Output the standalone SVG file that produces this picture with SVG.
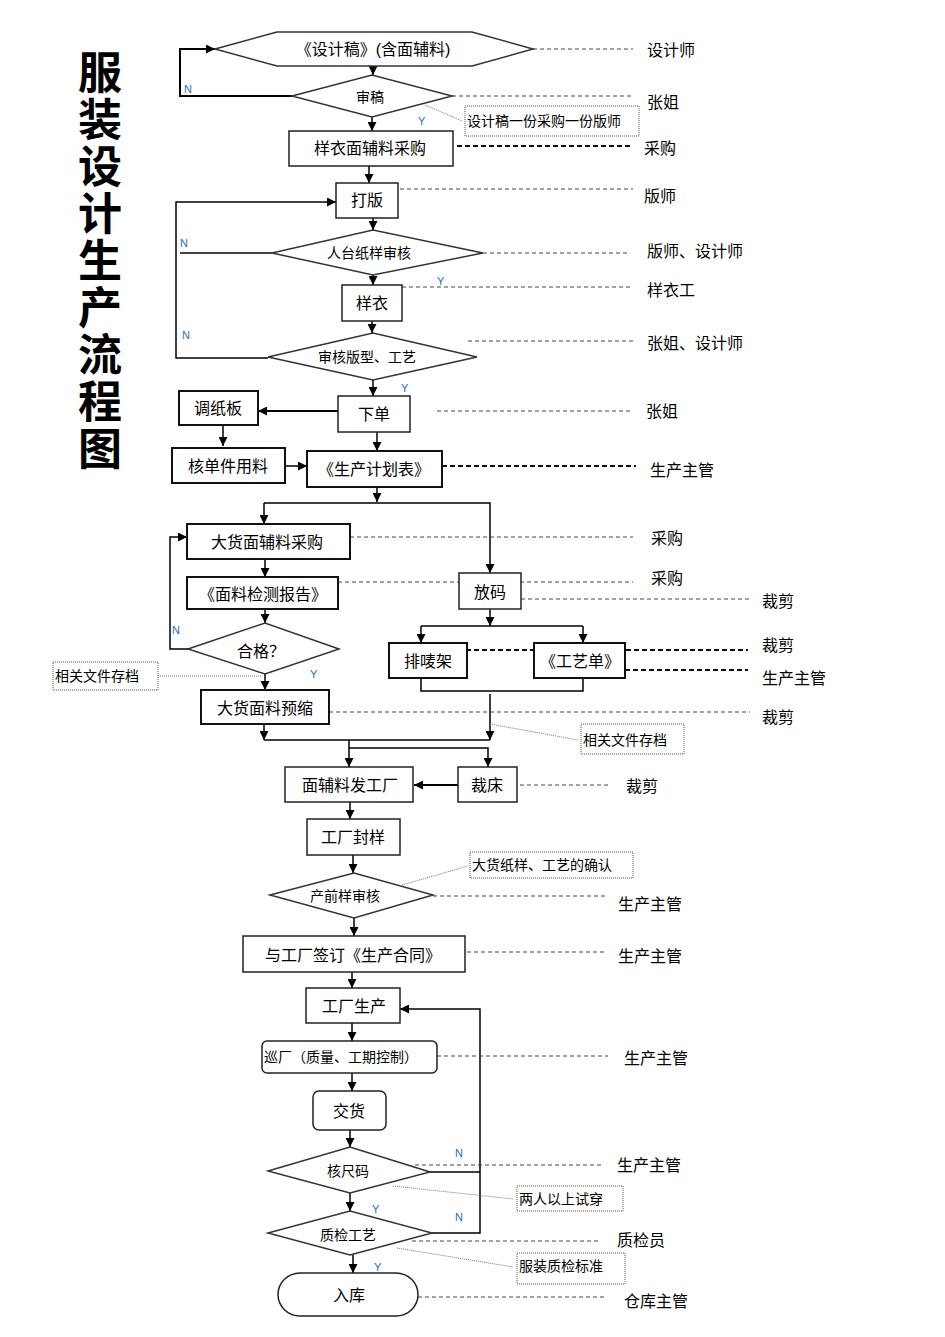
<svg xmlns="http://www.w3.org/2000/svg" width="945" height="1337" viewBox="0 0 945 1337">
<defs>
<marker id="a" viewBox="0 0 10 10" refX="10" refY="5" markerWidth="9" markerHeight="9" orient="auto" markerUnits="userSpaceOnUse"><path d="M0,0 L10,5 L0,10 z" fill="#000"/></marker>
<style>
.n{fill:#fff;stroke:#222;stroke-width:1.5}
.nb{fill:#fff;stroke:#111;stroke-width:2}
.d{fill:#fff;stroke:#333;stroke-width:1.5}
.note{fill:#fff;stroke:#555;stroke-width:1;stroke-dasharray:1 1}
.t{font-family:"Liberation Sans","Noto Sans CJK SC",sans-serif;font-size:16px;fill:#000;text-anchor:middle;dominant-baseline:central}
.s{font-size:14px}
.l{font-family:"Liberation Sans","Noto Sans CJK SC",sans-serif;font-size:16px;fill:#000;dominant-baseline:central}
.nt{font-family:"Liberation Sans","Noto Sans CJK SC",sans-serif;font-size:14px;fill:#000;dominant-baseline:central}
.yn{font-family:"Liberation Sans",sans-serif;font-size:11px;fill:#1e6fbf;dominant-baseline:central}
.title{font-family:"Noto Sans CJK SC",sans-serif;font-size:44px;font-weight:bold;fill:#000;writing-mode:vertical-rl;letter-spacing:3px}
.c{fill:none;stroke:#000;stroke-width:1.5}
.ck{fill:none;stroke:#000;stroke-width:2}
.dl{fill:none;stroke:#444;stroke-width:1;stroke-dasharray:4 3}
.dk{fill:none;stroke:#111;stroke-width:2;stroke-dasharray:5 3}
.dot{fill:none;stroke:#777;stroke-width:1;stroke-dasharray:1 1}
</style>
</defs>
<rect width="945" height="1337" fill="#fff"/>

<g id="title">
<text class="title" x="100" y="50">服装设计生产流程图</text>
</g>

<g id="connectors">
<path class="c" d="M373,66 V75" marker-end="url(#a)"/>
<path class="ck" d="M292,96 H180 V49 H215" marker-end="url(#a)"/>
<path class="c" d="M372,117 V131" marker-end="url(#a)"/>
<path class="c" d="M369,166 V183" marker-end="url(#a)"/>
<path class="c" d="M373,218 V230" marker-end="url(#a)"/>
<path class="c" d="M373,275 V285" marker-end="url(#a)"/>
<path class="c" d="M372,321 V333" marker-end="url(#a)"/>
<path class="c" d="M268,358 H176 V202 H336" marker-end="url(#a)"/>
<path class="c" d="M272,253 H180"/>
<path class="c" d="M373,380 V396" marker-end="url(#a)"/>
<path class="ck" d="M338,411 H258" marker-end="url(#a)"/>
<path class="c" d="M223,425 V446" marker-end="url(#a)"/>
<path class="c" d="M285,466 H307" marker-end="url(#a)"/>
<path class="c" d="M377,432 V451" marker-end="url(#a)"/>
<path class="c" d="M377,487 V502" marker-end="url(#a)"/>
<path class="c" d="M264,503 H490 V573" marker-end="url(#a)"/>
<path class="c" d="M264,503 V524" marker-end="url(#a)"/>
<path class="c" d="M265,559 V577" marker-end="url(#a)"/>
<path class="c" d="M265,609 V623" marker-end="url(#a)"/>
<path class="c" d="M188,649 H170 V537 H187" marker-end="url(#a)"/>
<path class="c" d="M265,674 V690" marker-end="url(#a)"/>
<path class="c" d="M490,609 V626" marker-end="url(#a)"/>
<path class="c" d="M421,626 H583"/>
<path class="c" d="M421,626 V643" marker-end="url(#a)"/>
<path class="c" d="M583,626 V643" marker-end="url(#a)"/>
<path class="c" d="M421,678 V691 H583 V678"/>
<path class="c" d="M490,694 V740" marker-end="url(#a)"/>
<path class="c" d="M264,724 V740" marker-end="url(#a)"/>
<path class="c" d="M264,740 H490"/>
<path class="c" d="M349,740 V767" marker-end="url(#a)"/>
<path class="c" d="M349,748 H488 V767" marker-end="url(#a)"/>
<path class="ck" d="M458,785 H414" marker-end="url(#a)"/>
<path class="c" d="M350,802 V819" marker-end="url(#a)"/>
<path class="c" d="M353,855 V873" marker-end="url(#a)"/>
<path class="c" d="M354,918 V936" marker-end="url(#a)"/>
<path class="c" d="M352,972 V988" marker-end="url(#a)"/>
<path class="c" d="M352,1023 V1041" marker-end="url(#a)"/>
<path class="c" d="M352,1073 V1091" marker-end="url(#a)"/>
<path class="c" d="M350,1130 V1147" marker-end="url(#a)"/>
<path class="c" d="M350,1193 V1211" marker-end="url(#a)"/>
<path class="c" d="M353,1255 V1273" marker-end="url(#a)"/>
<path class="c" d="M430,1172 H480"/>
<path class="c" d="M432,1233 H480 V1009 H400" marker-end="url(#a)"/>

<path class="dl" d="M533,49 H633"/>
<path class="dl" d="M452,96 H633"/>
<path class="dk" d="M457,146 H630"/>
<path class="dl" d="M400,189 H633"/>
<path class="dl" d="M483,253 H630"/>
<path class="dl" d="M402,287 H633"/>
<path class="dl" d="M468,341 H633"/>
<path class="dl" d="M437,411 H633"/>
<path class="dk" d="M442,466 H636"/>
<path class="dl" d="M350,537 H633"/>
<path class="dl" d="M338,582 H633"/>
<path class="dl" d="M521,599 H750"/>
<path class="dk" d="M466,650 H748"/>
<path class="dk" d="M625,670 H748"/>
<path class="dl" d="M329,712 H750"/>
<path class="dl" d="M520,785 H610"/>
<path class="dl" d="M433,896 H605"/>
<path class="dl" d="M467,952 H605"/>
<path class="dl" d="M437,1056 H608"/>
<path class="dl" d="M415,1165 H603"/>
<path class="dl" d="M412,1241 H600"/>
<path class="dl" d="M418,1297 H607"/>

<path class="dot" d="M425,105 L462,121"/>
<path class="dot" d="M158,676 H262"/>
<path class="dot" d="M490,724 L578,740"/>
<path class="dot" d="M402,885 L468,866"/>
<path class="dot" d="M393,1186 L513,1199"/>
<path class="dot" d="M397,1248 L513,1267"/>

<text class="yn" x="184" y="89">N</text>
<text class="yn" x="418" y="121">Y</text>
<text class="yn" x="180" y="243">N</text>
<text class="yn" x="437" y="281">Y</text>
<text class="yn" x="182" y="335">N</text>
<text class="yn" x="401" y="388">Y</text>
<text class="yn" x="172" y="630">N</text>
<text class="yn" x="310" y="674">Y</text>
<text class="yn" x="455" y="1153">N</text>
<text class="yn" x="372" y="1209">Y</text>
<text class="yn" x="455" y="1217">N</text>
<text class="yn" x="374" y="1267">Y</text>
</g>

<g id="n-design"><polygon class="d" points="215,49 277,32 472,32 533,49 472,66 277,66"/><text class="t" x="373" y="49">《设计稿》(含面辅料)</text></g>
<g id="n-review"><polygon class="d" points="292,96 372,75 452,96 372,117"/><text class="t s" x="370" y="97">审稿</text></g>
<g id="n-sample-buy"><rect class="n" x="289" y="131" width="164" height="35"/><text class="t" x="370" y="148">样衣面辅料采购</text></g>
<g id="n-pattern"><rect class="n" x="336" y="183" width="62" height="35"/><text class="t" x="367" y="200">打版</text></g>
<g id="n-paper-review"><polygon class="d" points="272,253 373,230 483,253 373,275"/><text class="t s" x="369" y="253">人台纸样审核</text></g>
<g id="n-sample"><rect class="n" x="342" y="285" width="60" height="36"/><text class="t" x="372" y="303">样衣</text></g>
<g id="n-style-review"><polygon class="d" points="268,357 373,333 477,357 373,380"/><text class="t s" x="367" y="357">审核版型、工艺</text></g>
<g id="n-order"><rect class="n" x="338" y="396" width="72" height="36"/><text class="t" x="374" y="414">下单</text></g>
<g id="n-adjust"><rect class="nb" x="179" y="391" width="79" height="34"/><text class="t" x="218" y="408">调纸板</text></g>
<g id="n-check-usage"><rect class="nb" x="172" y="448" width="113" height="35"/><text class="t" x="228" y="466">核单件用料</text></g>
<g id="n-plan"><rect class="nb" x="307" y="451" width="135" height="36"/><text class="t" x="374" y="469">《生产计划表》</text></g>
<g id="n-bulk-buy"><rect class="nb" x="187" y="524" width="163" height="35"/><text class="t" x="267" y="542">大货面辅料采购</text></g>
<g id="n-report"><rect class="nb" x="187" y="577" width="151" height="32"/><text class="t" x="263" y="594">《面料检测报告》</text></g>
<g id="n-qualified"><polygon class="d" points="188,649 265,623 339,649 265,674"/><text class="t" x="261" y="651">合格？</text></g>
<g id="n-archive1"><rect class="note" x="53" y="662" width="105" height="28"/><text class="nt" x="55" y="676">相关文件存档</text></g>
<g id="n-preshrink"><rect class="nb" x="201" y="690" width="128" height="34"/><text class="t" x="265" y="708">大货面料预缩</text></g>
<g id="n-grading"><rect class="n" x="459" y="573" width="62" height="36"/><text class="t" x="490" y="592">放码</text></g>
<g id="n-marker"><rect class="nb" x="389" y="643" width="78" height="35"/><text class="t" x="428" y="661">排唛架</text></g>
<g id="n-process"><rect class="nb" x="534" y="643" width="91" height="35"/><text class="t" x="580" y="661">《工艺单》</text></g>
<g id="n-archive2"><rect class="note" x="581" y="724" width="103" height="30"/><text class="nt" x="583" y="740">相关文件存档</text></g>
<g id="n-ship-material"><rect class="n" x="285" y="767" width="128" height="35"/><text class="t" x="350" y="785">面辅料发工厂</text></g>
<g id="n-cutting"><rect class="n" x="458" y="767" width="59" height="35"/><text class="t" x="487" y="785">裁床</text></g>
<g id="n-seal"><rect class="n" x="307" y="819" width="93" height="36"/><text class="t" x="353" y="837">工厂封样</text></g>
<g id="n-pre-review"><polygon class="d" points="270,895 354,873 433,895 354,918"/><text class="t s" x="345" y="896">产前样审核</text></g>
<g id="n-confirm"><rect class="note" x="470" y="852" width="163" height="26"/><text class="nt" x="472" y="865">大货纸样、工艺的确认</text></g>
<g id="n-contract"><rect class="n" x="243" y="936" width="222" height="36"/><text class="t" x="353" y="955">与工厂签订《生产合同》</text></g>
<g id="n-production"><rect class="n" x="306" y="988" width="94" height="35"/><text class="t" x="354" y="1006">工厂生产</text></g>
<g id="n-inspect"><rect class="n" x="262" y="1041" width="175" height="32" rx="5"/><text class="nt" x="264" y="1057">巡厂（质量、工期控制）</text></g>
<g id="n-delivery"><rect class="n" x="313" y="1091" width="73" height="39" rx="6"/><text class="t" x="349" y="1111">交货</text></g>
<g id="n-size"><polygon class="d" points="268,1171 350,1147 430,1172 350,1193"/><text class="t s" x="348" y="1171">核尺码</text></g>
<g id="n-tryon"><rect class="note" x="517" y="1186" width="106" height="25"/><text class="nt" x="519" y="1199">两人以上试穿</text></g>
<g id="n-qc"><polygon class="d" points="268,1233 350,1211 432,1233 350,1255"/><text class="t s" x="348" y="1235">质检工艺</text></g>
<g id="n-qc-std"><rect class="note" x="517" y="1253" width="108" height="31"/><text class="nt" x="519" y="1266">服装质检标准</text></g>
<g id="n-store"><rect class="n" x="278" y="1273" width="140" height="43" rx="22"/><text class="t" x="349" y="1295">入库</text></g>
<g id="n-note1"><rect class="note" x="465" y="106" width="174" height="30"/><text class="nt" x="467" y="121">设计稿一份采购一份版师</text></g>

<g id="roles">
<text class="l" x="647" y="50">设计师</text>
<text class="l" x="647" y="102">张姐</text>
<text class="l" x="644" y="148">采购</text>
<text class="l" x="644" y="196">版师</text>
<text class="l" x="647" y="251">版师、设计师</text>
<text class="l" x="647" y="290">样衣工</text>
<text class="l" x="647" y="343">张姐、设计师</text>
<text class="l" x="646" y="411">张姐</text>
<text class="l" x="650" y="470">生产主管</text>
<text class="l" x="651" y="538">采购</text>
<text class="l" x="651" y="578">采购</text>
<text class="l" x="762" y="601">裁剪</text>
<text class="l" x="762" y="645">裁剪</text>
<text class="l" x="762" y="678">生产主管</text>
<text class="l" x="762" y="717">裁剪</text>
<text class="l" x="626" y="786">裁剪</text>
<text class="l" x="618" y="904">生产主管</text>
<text class="l" x="618" y="956">生产主管</text>
<text class="l" x="624" y="1058">生产主管</text>
<text class="l" x="617" y="1165">生产主管</text>
<text class="l" x="617" y="1240">质检员</text>
<text class="l" x="624" y="1301">仓库主管</text>
</g>
</svg>
